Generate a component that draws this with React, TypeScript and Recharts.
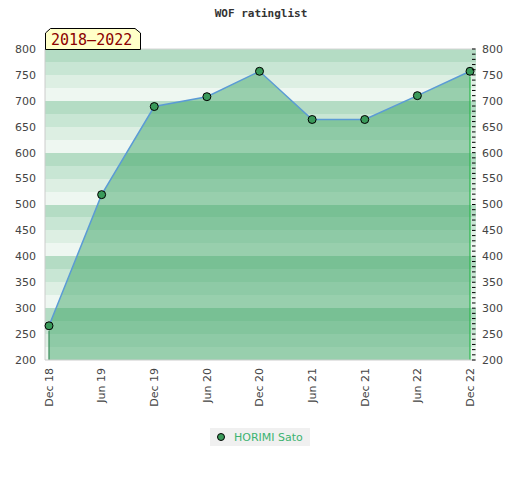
import React from "react";
import { AreaChart, Area, XAxis, YAxis, CartesianGrid, ReferenceLine } from "recharts";

const categories = ["Dec 18", "Jun 19", "Dec 19", "Jun 20", "Dec 20", "Jun 21", "Dec 21", "Jun 22", "Dec 22"];
const ratings = [266, 519, 689, 708, 757, 664, 664, 710, 757];
const yDomain = [200, 800];
// left axis carries a tick every 25 (for the stripes), labels only every 50
const stripeTicks = [
  200, 225, 250, 275, 300, 325, 350, 375, 400, 425, 450, 475, 500,
  525, 550, 575, 600, 625, 650, 675, 700, 725, 750, 775, 800,
];
const minorTicks = Array.from({ length: 61 }, (_, i) => 200 + i * 10);
const seriesName = "HORIMI Sato";
const title = "WOF ratinglist";
const periodLabel = "2018–2022";

const data = categories.map((month, i) => ({ month, rating: ratings[i] }));

const FONT = '"DejaVu Sans", Verdana, sans-serif';
const MONO = '"DejaVu Sans Mono", monospace';
const stripes = ["#b4dcc4", "#c8e6d4", "#ddefe3", "#eef7f1"];

const XTick = (props: any) => {
  const { x, y, payload } = props;
  return (
    <g transform={`translate(${x},${y})`}>
      <text transform="rotate(-90)" textAnchor="end" dy="0.35em" fill="#444" fontSize={11} fontFamily={FONT}>
        {payload.value}
      </text>
    </g>
  );
};

const LeftTick = (props: any) => {
  const { x, y, payload } = props;
  if (payload.value % 50 !== 0) return <g />;
  return (
    <text x={x} y={y} dy="0.35em" textAnchor="end" fill="#444" fontSize={11} fontFamily={FONT}>
      {payload.value}
    </text>
  );
};

const RightTick = (props: any) => {
  const { x, y, payload } = props;
  return (
    <g>
      <line x1={x - 4} x2={x - 0.5} y1={y} y2={y} stroke="#000" strokeWidth={1} />
      {payload.value % 50 === 0 && (
        <text x={x + 6} y={y} dy="0.35em" textAnchor="start" fill="#444" fontSize={11} fontFamily={FONT}>
          {payload.value}
        </text>
      )}
    </g>
  );
};

export default function App() {
  return (
    <div style={{ position: "relative", width: 520, height: 480, fontFamily: FONT }}>
      <style>{`body{margin:0}`}</style>
      <AreaChart
        width={520}
        height={480}
        data={data}
        margin={{ top: 49, right: 0, left: 0, bottom: 60 }}
        style={{ fontFamily: FONT }}
      >
        <CartesianGrid
          yAxisId="left"
          vertical={false}
          stroke="transparent"
          horizontalFill={stripes}
          fillOpacity={1}
        />
        <XAxis
          dataKey="month"
          height={60}
          padding={{ left: 4, right: 6 }}
          tickSize={0}
          tickMargin={8}
          axisLine={{ stroke: "#cccccc" }}
          tick={<XTick />}
          interval={0}
        />
        <YAxis
          yAxisId="left"
          domain={yDomain}
          ticks={stripeTicks}
          type="number"
          width={45}
          tickSize={0}
          tickMargin={9}
          axisLine={{ stroke: "#cccccc" }}
          tick={<LeftTick />}
          interval={0}
        />
        <YAxis
          yAxisId="right"
          orientation="right"
          domain={yDomain}
          ticks={minorTicks}
          type="number"
          width={44}
          tickSize={0}
          tickMargin={0}
          axisLine={false}
          tick={<RightTick />}
          interval={0}
        />
        <ReferenceLine yAxisId="left" y={yDomain[1]} stroke="#d4d4d4" />
        <Area
          yAxisId="right"
          type="linear"
          dataKey="rating"
          stroke="none"
          fill="none"
          dot={false}
          activeDot={false}
          legendType="none"
          isAnimationActive={false}
        />
        <Area
          yAxisId="left"
          type="linear"
          dataKey="rating"
          name={seriesName}
          stroke="#5b9bd5"
          strokeWidth={1.5}
          fill="#2e9e5b"
          fillOpacity={0.45}
          dot={{ r: 4, fill: "#3a9a5a", stroke: "#000", strokeWidth: 1, fillOpacity: 1 }}
          activeDot={false}
          isAnimationActive={false}
        />
        <ReferenceLine
          yAxisId="left"
          segment={[
            { x: categories[0], y: yDomain[0] },
            { x: categories[0], y: ratings[0] - 10 },
          ]}
          stroke="#3a8a5a"
          strokeWidth={1.2}
        />
        <ReferenceLine
          yAxisId="left"
          segment={[
            { x: categories[categories.length - 1], y: yDomain[0] },
            { x: categories[categories.length - 1], y: ratings[ratings.length - 1] - 10 },
          ]}
          stroke="#2db84d"
          strokeWidth={1.2}
        />
      </AreaChart>

      <svg
        width={520}
        height={480}
        style={{ position: "absolute", left: 0, top: 0, pointerEvents: "none" }}
      >
        <text x={261} y={17} textAnchor="middle" fontFamily={MONO} fontWeight="bold" fontSize={11} fill="#333">
          {title}
        </text>
        <polygon
          points="45.5,49.5 45.5,33 50.5,28.5 135,28.5 140.5,33 140.5,49.5"
          fill="#ffffc8"
          stroke="#000"
          strokeWidth={1}
        />
        <text x={51} y={45} fontFamily={MONO} fontSize={15} fill="#8b0000">
          {periodLabel}
        </text>
      </svg>

      <div
        style={{
          position: "absolute",
          left: 210,
          top: 428,
          width: 100,
          height: 18,
          background: "#f0f0f0",
          display: "flex",
          alignItems: "center",
          fontSize: 11,
          color: "#3cb371",
          fontFamily: FONT,
        }}
      >
        <svg width={24} height={18}>
          <circle cx={11} cy={9} r={3.5} fill="#3a9a5a" stroke="#000" strokeWidth={1} />
        </svg>
        <span>{seriesName}</span>
      </div>
    </div>
  );
}
